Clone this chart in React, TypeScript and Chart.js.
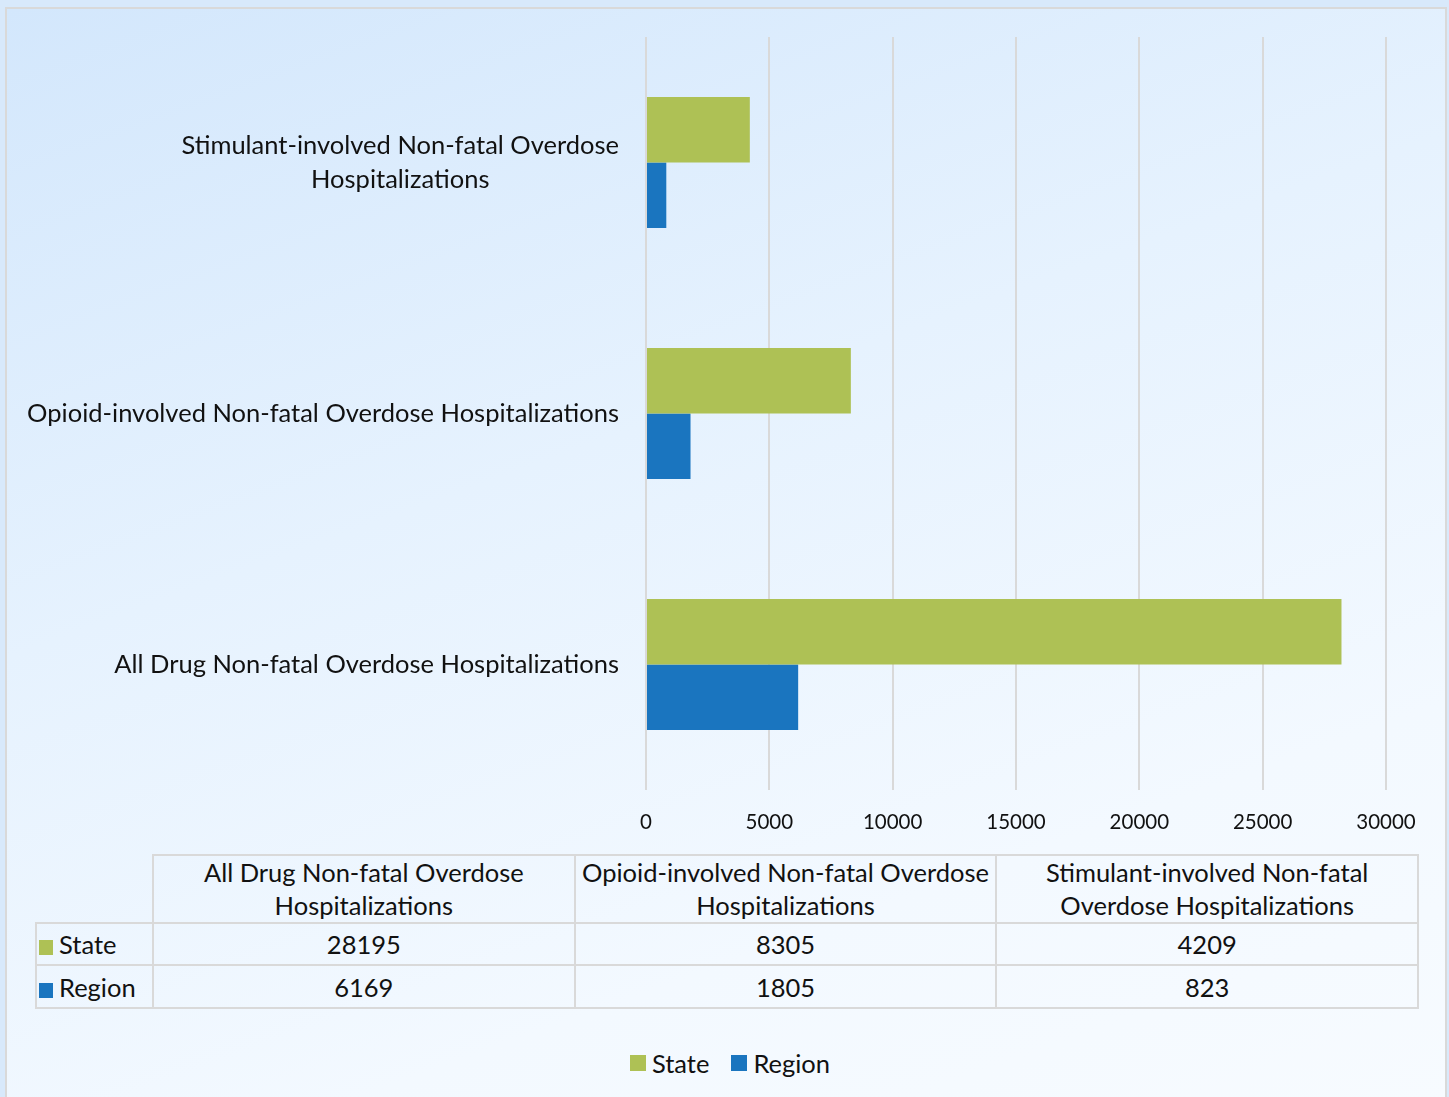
import React, { useEffect, useRef } from "react";
import { Chart, registerables } from "chart.js";

Chart.register(...registerables);

// ---- data ----
const categories: string[] = [
  "All Drug Non-fatal Overdose Hospitalizations",
  "Opioid-involved Non-fatal Overdose Hospitalizations",
  "Stimulant-involved Non-fatal Overdose Hospitalizations",
];
const axisLabelLines: string[][] = [
  ["All Drug Non-fatal Overdose Hospitalizations"],
  ["Opioid-involved Non-fatal Overdose Hospitalizations"],
  ["Stimulant-involved Non-fatal Overdose", "Hospitalizations"],
];
const tableHeaderLines: string[][] = [
  ["All Drug Non-fatal Overdose", "Hospitalizations"],
  ["Opioid-involved Non-fatal Overdose", "Hospitalizations"],
  ["Stimulant-involved Non-fatal", "Overdose Hospitalizations"],
];
const seriesNames: string[] = ["State", "Region"];
const stateValues: number[] = [28195, 8305, 4209];
const regionValues: number[] = [6169, 1805, 823];
const xTicks: number[] = [0, 5000, 10000, 15000, 20000, 25000, 30000];

const COLORS = ["#aec155", "#1a75bf"];
const FONT = "Lato, 'Liberation Sans', sans-serif";
const TEXT = "#111111";
const GRID = "#d9d9d9";
const FS = 25.5;

const seriesValues = [stateValues, regionValues];

export default function App() {
  const canvasRef = useRef<HTMLCanvasElement | null>(null);

  useEffect(() => {
    const canvas = canvasRef.current;
    if (!canvas) return;
    const order = categories.map((_, i) => i).reverse();
    const yLabelPlugin = {
      id: "yLabels",
      afterDraw(chart: any) {
        const ctx = chart.ctx;
        const yScale = chart.scales.y;
        ctx.save();
        ctx.font = `${FS}px ${FONT}`;
        ctx.fillStyle = TEXT;
        ctx.textAlign = "center";
        ctx.textBaseline = "middle";
        const rightEdge = 619;
        const lh = 34;
        order.forEach((catIdx, tickIdx) => {
          const lines = axisLabelLines[catIdx];
          const y = yScale.getPixelForTick(tickIdx);
          const maxW = Math.max(...lines.map((l) => ctx.measureText(l).width));
          const cx = rightEdge - maxW / 2;
          lines.forEach((l, j) => {
            ctx.fillText(l, cx, y + (j - (lines.length - 1) / 2) * lh);
          });
        });
        ctx.restore();
      },
    };

    const chart = new Chart(canvas, {
      type: "bar",
      data: {
        labels: order.map((i) => categories[i]),
        datasets: seriesNames.map((name, s) => ({
          label: name,
          data: order.map((i) => seriesValues[s][i]),
          backgroundColor: COLORS[s],
          borderWidth: 0,
          categoryPercentage: 0.522,
          barPercentage: 1,
        })),
      },
      options: {
        indexAxis: "y",
        animation: false,
        responsive: false,
        maintainAspectRatio: false,
        layout: { padding: { top: 37, right: 63, left: 0, bottom: 0 } },
        plugins: {
          legend: { display: false },
          tooltip: { enabled: false },
        },
        scales: {
          x: {
            min: xTicks[0],
            max: xTicks[xTicks.length - 1],
            afterBuildTicks: (scale: any) => {
              scale.ticks = xTicks.map((v) => ({ value: v }));
            },
            afterFit: (scale: any) => {
              scale.height = 60;
            },
            grid: { color: GRID, lineWidth: 2, drawTicks: false },
            border: { display: false },
            ticks: {
              color: TEXT,
              font: { family: FONT, size: 20.5 },
              padding: 20,
              maxRotation: 0,
              callback: (v: any) => String(v),
            },
          },
          y: {
            afterFit: (scale: any) => {
              scale.width = 646;
            },
            grid: { display: false },
            border: { display: false },
            ticks: { display: false },
          },
        },
      },
      plugins: [yLabelPlugin],
    });
    return () => chart.destroy();
  }, []);

  const cellBorder = `2px solid ${GRID}`;
  const cellFont: React.CSSProperties = {
    fontFamily: FONT,
    fontSize: FS,
    color: TEXT,
    padding: 0,
  };

  return (
    <div
      style={{
        position: "absolute",
        left: 0,
        top: 0,
        width: 1449,
        height: 1097,
        overflow: "hidden",
        background: "#d8e9fb",
      }}
    >
      <div
        style={{
          position: "absolute",
          left: 5,
          top: 7,
          width: 1438,
          height: 1100,
          border: cellBorder,
          background: "linear-gradient(160deg, #d3e7fc 0%, #e6f2fe 40%, #f3f9ff 75%, #f7fbff 100%)",
        }}
      />
      <canvas
        ref={canvasRef}
        width={1449}
        height={850}
        style={{ position: "absolute", left: 0, top: 0, width: 1449, height: 850 }}
      />
      <table
        style={{
          position: "absolute",
          left: 35,
          top: 854,
          width: 1382,
          borderCollapse: "collapse",
          tableLayout: "fixed",
        }}
      >
        <colgroup>
          <col style={{ width: 117 }} />
          {categories.map((c) => (
            <col key={c} style={{ width: 421.67 }} />
          ))}
        </colgroup>
        <tbody>
          <tr style={{ height: 66 }}>
            <td style={{ ...cellFont, border: "none", borderRight: cellBorder, borderBottom: cellBorder }} />
            {tableHeaderLines.map((lines, i) => (
              <td
                key={i}
                style={{ ...cellFont, border: cellBorder, textAlign: "center", lineHeight: "33px", paddingBottom: 0 }}
              >
                {lines.map((l, j) => (
                  <div key={j}>{l}</div>
                ))}
              </td>
            ))}
          </tr>
          {seriesNames.map((name, s) => (
            <tr key={name} style={{ height: s === 0 ? 42 : 43 }}>
              <td style={{ ...cellFont, border: cellBorder, whiteSpace: "nowrap", paddingLeft: 2, lineHeight: "30px" }}>
                <span
                  style={{
                    display: "inline-block",
                    width: 14,
                    height: 15,
                    background: COLORS[s],
                    marginRight: 6,
                    verticalAlign: "-1px",
                  }}
                />
                {name}
              </td>
              {seriesValues[s].map((v, i) => (
                <td key={i} style={{ ...cellFont, border: cellBorder, textAlign: "center", lineHeight: "30px" }}>
                  {v}
                </td>
              ))}
            </tr>
          ))}
        </tbody>
      </table>
      <div
        style={{
          position: "absolute",
          left: 0,
          width: 1449,
          top: 1047,
          display: "flex",
          justifyContent: "center",
          paddingLeft: 11,
          boxSizing: "border-box",
          fontFamily: FONT,
          fontSize: FS,
          color: TEXT,
          alignItems: "center",
          height: 32,
        }}
      >
        {seriesNames.map((name, s) => (
          <div key={name} style={{ display: "flex", alignItems: "center", marginRight: s === 0 ? 22 : 0 }}>
            <span style={{ display: "inline-block", width: 16, height: 16, background: COLORS[s], marginRight: 6 }} />
            <span>{name}</span>
          </div>
        ))}
      </div>
    </div>
  );
}
